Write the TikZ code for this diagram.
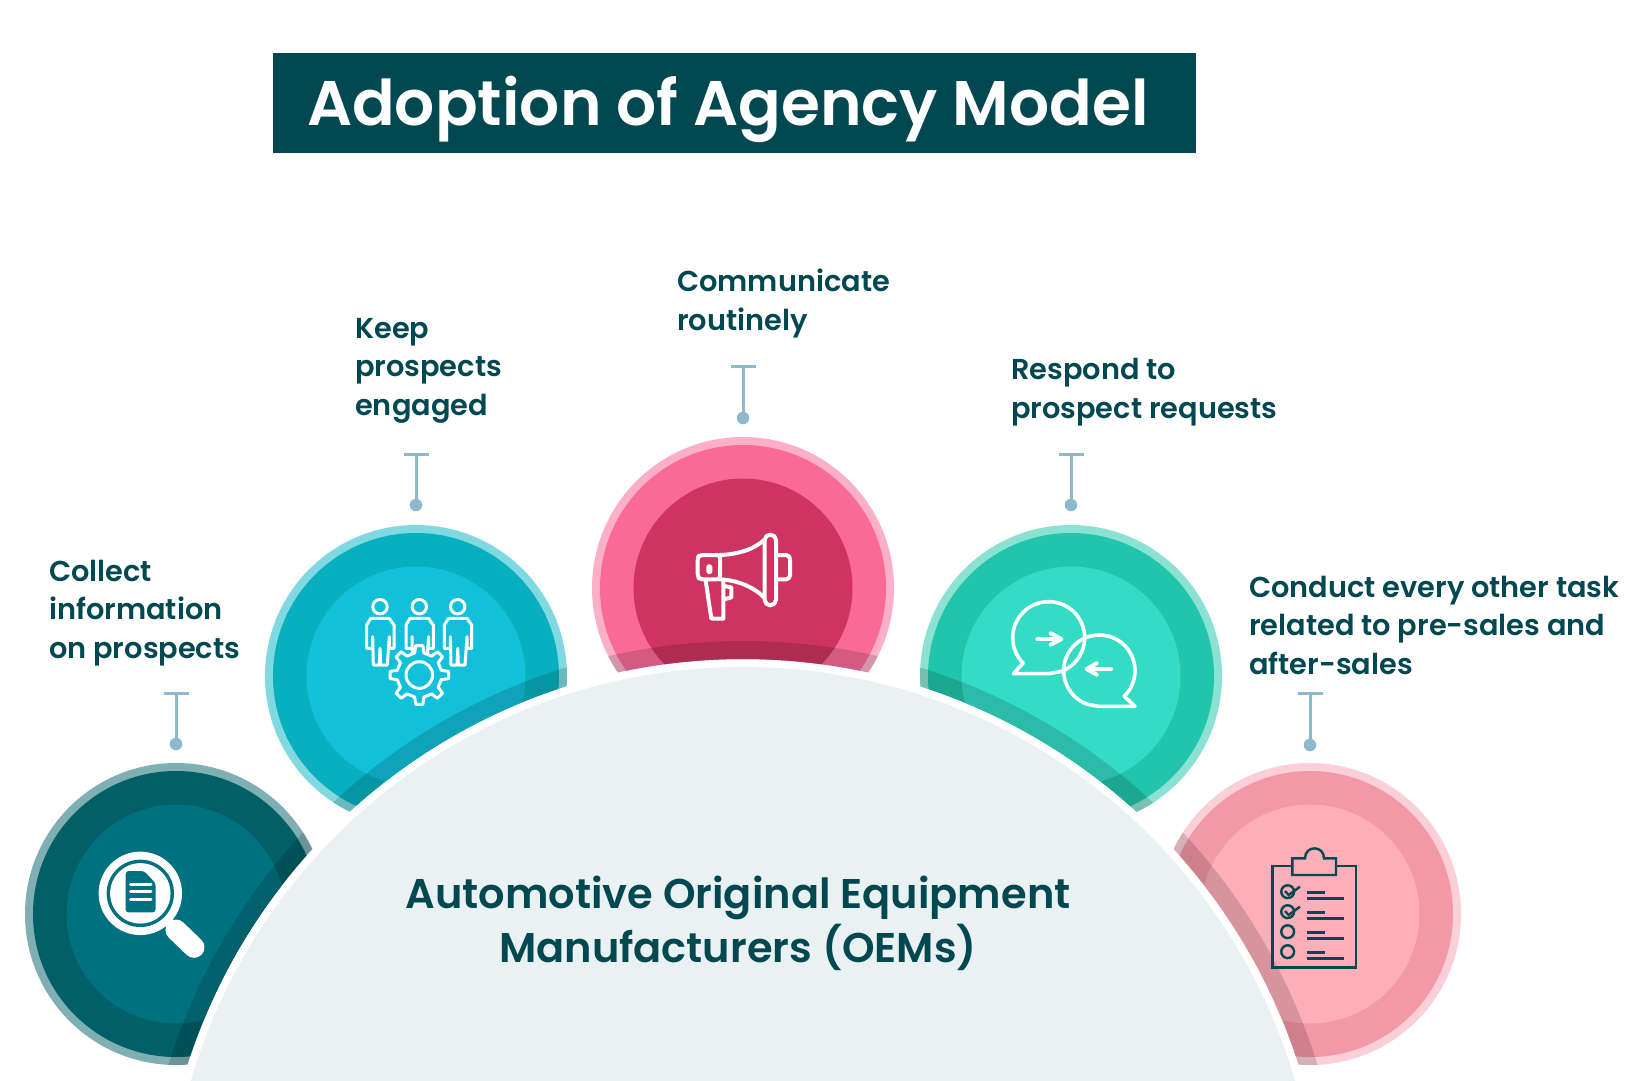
\documentclass[tikz,border=0pt]{standalone}
\usepackage{fontspec}
\setmainfont{Poppins SemiBold}
\definecolor{ink}{HTML}{024850}
\definecolor{lead}{HTML}{8DB9CC}
\definecolor{oem}{HTML}{EAF1F3}
\definecolor{ringA}{HTML}{7FAFB3}\definecolor{midA}{HTML}{005F67}\definecolor{innA}{HTML}{007180}
\definecolor{ringB}{HTML}{80D9E1}\definecolor{midB}{HTML}{08B0BF}\definecolor{innB}{HTML}{12C0DA}
\definecolor{ringC}{HTML}{FBB0C8}\definecolor{midC}{HTML}{F96A98}\definecolor{innC}{HTML}{CF3360}
\definecolor{ringD}{HTML}{8CE2D2}\definecolor{midD}{HTML}{20C5AB}\definecolor{innD}{HTML}{34DCC6}
\definecolor{ringE}{HTML}{FACFD8}\definecolor{midE}{HTML}{F398A6}\definecolor{innE}{HTML}{FDAFB9}
\tikzset{
  lab/.style={anchor=base west,inner sep=0pt,align=left,text=ink,font=\fontsize{28.8}{38.5}\selectfont},
  leadline/.style={draw=lead,line width=3pt},
  leaddot/.style={circle,fill=lead,inner sep=0pt,minimum size=12.5pt},
  iconw/.style={draw=white,line width=4pt,line join=round,line cap=round},
  icond/.style={draw=ink,line width=2.4pt,line join=miter}
}
\newcommand{\badge}[3]{% cx cy letter
  \fill[fill=ring#3] (#1,#2) circle (151pt);
  \fill[fill=mid#3] (#1,#2) circle (143pt);
  \fill[fill=inn#3] (#1,#2) circle (109.5pt);
  \begin{scope}
    \clip (#1,#2) circle (151pt);
    \fill[black,opacity=.15] (743,1242) circle (601pt);
  \end{scope}
}
\newcommand{\person}[2]{%
  \begin{scope}[shift={(#1,#2)}]
    \draw[iconw,line width=3pt] (0,0) circle (7.2pt);
    \draw[iconw,line width=3pt] (-13.3,41.7) -- (-13.3,18.3) -- (-9.3,11.7) -- (9.3,11.7) -- (14,18.3) -- (14,41.7) -- (9.3,41.7) -- (9.3,30) -- (7.3,58.3) -- (.7,58.3) -- (0,41.7) -- (-.7,58.3) -- (-6.7,58.3) -- (-7.3,30) -- (-7.3,41.7) -- cycle;
  \end{scope}
}
\begin{document}
\begin{tikzpicture}[x=1pt,y=-1pt]
\useasboundingbox (0,0) rectangle (1646,1080);
\fill[white] (0,0) rectangle (1646,1080);
% badges, cut back from the big arc
\begin{scope}[even odd rule]
  \clip (0,0) rectangle (1646,1080) (743,1242) circle (583pt);
  \badge{176}{914}{A}
  \badge{416}{676}{B}
  \badge{743}{588}{C}
  \badge{1071}{676}{D}
  \badge{1310}{914}{E}
\end{scope}
\begin{scope}
  \clip (0,0) rectangle (1646,1080);
  \fill[oem] (743,1242) circle (575pt);
\end{scope}
% title
\node[fill=ink,minimum width=923pt,minimum height=100pt,inner sep=0pt,anchor=north west] (titlebox) at (273,53) {};
\node[anchor=base,inner sep=0pt,text=white,font=\fontsize{63}{70}\selectfont] (title) at (728,125) {Adoption of Agency Model};
% labels
\node[lab] (l1) at (49,658) {Collect\\information\\on prospects};
\node[lab] (l2) at (355,415) {Keep\\prospects\\engaged};
\node[lab] (l3) at (677,330) {Communicate\\routinely};
\node[lab] (l4) at (1011,418) {Respond to\\prospect requests};
\node[lab] (l5) at (1249,674) {Conduct every other task\\related to pre-sales and\\after-sales};
\node[anchor=base,inner sep=0pt,align=center,text=ink,font=\fontsize{41.5}{54}\selectfont] (oemtext) at (738,962) {Automotive Original Equipment\\Manufacturers (OEMs)};
% leaders
\foreach \n/\x/\t/\d in {a/176/693/744,b/416/454/505,c/743/366/418,d/1071/454/505,e/1310/693/745}{
  \coordinate (t\n) at (\x,\t);
  \node[leaddot] (d\n) at (\x,\d) {};
  \draw[leadline] (t\n) -- (d\n);
  \draw[leadline] ([xshift=-12.5pt]t\n) -- ([xshift=12.5pt]t\n);
}
% magnifier
\begin{scope}[shift={(0,740)},x=.33333pt,y=-.33333pt]
  \fill[white] (421,460) circle (41.7pt);
  \fill[innA] (421,460) circle (33.7pt);
  \fill[white] (421,460) circle (30.2pt);
  \fill[innA,rounded corners=3pt] (377,393) -- (377,517) -- (467,517) -- (467,430) -- (432,393) -- cycle;
  \foreach \yy in {432,454,478}{\draw[white,line width=3pt,line cap=round] (392,\yy) -- (453,\yy);}
  \draw[white,line width=9pt] (500,540) -- (535,572);
  \draw[white,line width=21pt,line cap=round] (528,570) -- (582,622);
\end{scope}
% people and gear
\person{380}{606.7}
\person{419.3}{606.7}
\person{457.7}{606.7}
\begin{scope}[shift={(419.3,675)}]
  \draw[iconw,line width=3pt,fill=innB] (-12:22.5pt) \foreach \a in {0,45,...,315}{ -- (\a-12:22.5pt) -- (\a-7:29.5pt) -- (\a+7:29.5pt) -- (\a+12:22.5pt)} -- cycle;
  \draw[iconw,line width=3pt] (0,0) circle (13.3pt);
\end{scope}
% megaphone
\begin{scope}[shift={(670,520)},x=.33333pt,y=-.33333pt]
  \draw[iconw,rounded corners=3pt] (150,105) -- (90,105) -- (83,112) -- (83,170) -- (90,178) -- (150,178) -- cycle;
  \draw[iconw] (150,105) .. controls (200,103) and (250,90) .. (282,60);
  \draw[iconw] (150,178) .. controls (200,180) and (250,200) .. (282,232);
  \draw[iconw,rounded corners=5.5pt] (284,44) rectangle (318,256);
  \draw[iconw,rounded corners=4pt] (322,105) -- (360,105) -- (360,178) -- (322,178);
  \fill[white,rounded corners=2.5pt] (109,133) rectangle (127,162);
  \draw[iconw] (107,182) -- (124,296) -- (160,296) -- (160,182);
  \draw[iconw] (162,198) -- (184,202) -- (184,232) -- (162,238);
\end{scope}
% chat
\begin{scope}[shift={(1000,590)},x=.33333pt,y=-.33333pt]
  \draw[iconw,line width=3.6pt] plot[domain=135:430,samples=70] ({146+108*cos(\x)},{143+108*sin(\x)}) -- (146,251) -- (40,251) -- (70,219);
  \draw[iconw,line width=3.6pt] plot[domain=0:296,samples=70] ({298+107*cos(46-\x)},{242+107*sin(46-\x)}) -- (295,349) -- (405,349) -- (372,318);
  \draw[iconw,line width=4pt] (112,147) -- (180,147);
  \draw[iconw,line width=4pt] (152,130) -- (184,147) -- (152,164);
  \draw[iconw,line width=4pt] (333,237) -- (265,237);
  \draw[iconw,line width=4pt] (290,220) -- (260,237) -- (290,254);
\end{scope}
% clipboard
\begin{scope}[shift={(1250,835)},x=.33333pt,y=-.33333pt]
  \draw[icond] (127,93) -- (68,93) -- (68,398) -- (318,398) -- (318,93) -- (258,93);
  \draw[icond] (127,120) -- (258,120) -- (258,70) -- (222,70) .. controls (222,30) and (165,30) .. (165,70) -- (127,70) -- cycle;
  \foreach \yy in {170,230,290,350}{
    \draw[icond] (113,\yy) circle (6.4pt);
    \draw[icond] (170,\yy+2) -- (225,\yy+2);
    \draw[icond] (170,\yy+20) -- (282,\yy+20);
  }
  \foreach \yy in {170,230}{\draw[icond] (105,\yy-2) -- (116,\yy+10) -- (150,\yy-15);}
\end{scope}
\end{tikzpicture}
\end{document}
